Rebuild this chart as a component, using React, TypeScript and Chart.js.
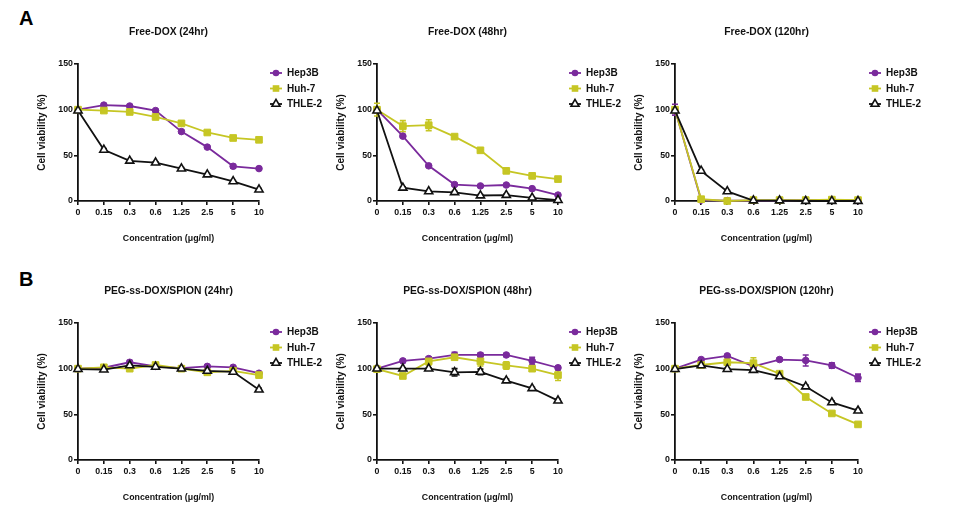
import React, { useEffect, useRef } from 'react';
import { Chart, registerables } from 'chart.js';

Chart.register(...registerables);
Chart.defaults.font.family = "'Liberation Sans', Arial, Helvetica, sans-serif";

const CONCENTRATIONS = ['0', '0.15', '0.3', '0.6', '1.25', '2.5', '5', '10'];
const SERIES_NAMES = ['Hep3B', 'Huh-7', 'THLE-2'];
const Y_TICK_STEP = 50;
const Y_MAX = 150;
const X_TITLE = 'Concentration (μg/ml)';
const Y_TITLE = 'Cell viability (%)';

// Free-DOX (24hr)
const freeDox24Hep3B = [100, 105, 104, 99, 76, 59, 38, 35.5];
const freeDox24Huh7 = [100, 99, 97.5, 92, 85, 75, 69, 67];
const freeDox24Thle2 = [99, 56, 44, 42, 35.5, 29, 21.5, 12.5];
const freeDox24Hep3BErr = [1, 1.5, 1, 1, 1.5, 1, 2, 1];
const freeDox24Huh7Err = [1, 1, 1, 1, 1, 1, 1, 1];
const freeDox24Thle2Err = [1, 1.5, 1.5, 1, 1, 1, 1, 1];

// Free-DOX (48hr)
const freeDox48Hep3B = [100, 71, 38.5, 18, 16.5, 17.5, 13.5, 6.5];
const freeDox48Huh7 = [100, 82, 83, 70.5, 55.5, 33, 27.5, 24];
const freeDox48Thle2 = [99, 14.5, 10.5, 9.5, 6, 6.5, 3.5, 1];
const freeDox48Hep3BErr = [3, 1.5, 1, 1, 1, 1, 1, 1];
const freeDox48Huh7Err = [7, 6, 6, 1.5, 1, 1, 1, 1];
const freeDox48Thle2Err = [1, 1, 1, 1, 1, 1, 1, 1];

// Free-DOX (120hr)
const freeDox120Hep3B = [100, 1, 0.5, 0.5, 0.5, 1, 1, 0.5];
const freeDox120Huh7 = [100, 2, 0, 1, 1, 1, 1.5, 1];
const freeDox120Thle2 = [99, 33, 10.5, 0.5, 0.5, 0, 0, 0];
const freeDox120Hep3BErr = [6, 0.5, 0.5, 0.5, 0.5, 0.5, 0.5, 0.5];
const freeDox120Huh7Err = [1, 1, 0.5, 0.5, 0.5, 0.5, 0.5, 0.5];
const freeDox120Thle2Err = [1, 1, 1, 0.5, 0.5, 0.5, 0.5, 0.5];

// PEG-ss-DOX/SPION (24hr)
const peg24Hep3B = [100, 101, 107, 102.5, 100.5, 102.5, 101.5, 95];
const peg24Huh7 = [100, 101.5, 100, 104, 100, 96, 97.5, 93];
const peg24Thle2 = [99.5, 99, 103.5, 102, 100, 97.5, 96.5, 77];
const peg24Hep3BErr = [1, 1, 2, 1, 1, 1, 1, 1.5];
const peg24Huh7Err = [1, 1, 1, 1, 1, 1, 1, 3];
const peg24Thle2Err = [1.5, 1, 1.5, 1, 1, 1, 1, 1.5];

// PEG-ss-DOX/SPION (48hr)
const peg48Hep3B = [100, 108.5, 111, 115, 115, 115, 108.5, 101];
const peg48Huh7 = [99.5, 92, 108, 112.5, 108, 103.5, 100, 93];
const peg48Thle2 = [100, 100, 100, 96, 96.5, 87, 78.5, 65];
const peg48Hep3BErr = [1, 1.5, 2, 3, 2, 1.5, 4, 2];
const peg48Huh7Err = [1, 1.5, 4, 2, 5, 4, 1.5, 6];
const peg48Thle2Err = [1, 1, 1, 4, 3, 1.5, 1, 1.5];

// PEG-ss-DOX/SPION (120hr)
const peg120Hep3B = [100, 110, 114, 102.5, 110, 109, 103.5, 90];
const peg120Huh7 = [100, 104, 107, 106, 94.5, 69, 51, 39];
const peg120Thle2 = [99.5, 103.5, 99.5, 98.5, 91.5, 80.5, 63, 54];
const peg120Hep3BErr = [1, 1.5, 1, 1, 1.5, 6, 3, 4];
const peg120Huh7Err = [1, 1, 1.5, 6, 1, 1, 1, 1];
const peg120Thle2Err = [2, 1.5, 1, 1.5, 1.5, 1.5, 1.5, 1.5];

const COLORS = ['#7a2a9c', '#c6c624', '#111111'];
const POINT_STYLES = ['circle', 'rect', 'triangle'];
const POINT_RADII = [3.3, 4.7, 4.7];
const DRAW_ORDER = [2, 1, 0];

type PanelDef = {
  title: string;
  values: number[][];
  errors: number[][];
  left: number;
  right: number;
  top: number;
};

const PANELS: PanelDef[] = [
  { title: 'Free-DOX (24hr)', values: [freeDox24Hep3B, freeDox24Huh7, freeDox24Thle2], errors: [freeDox24Hep3BErr, freeDox24Huh7Err, freeDox24Thle2Err], left: 78, right: 259, top: 64 },
  { title: 'Free-DOX (48hr)', values: [freeDox48Hep3B, freeDox48Huh7, freeDox48Thle2], errors: [freeDox48Hep3BErr, freeDox48Huh7Err, freeDox48Thle2Err], left: 377, right: 558, top: 64 },
  { title: 'Free-DOX (120hr)', values: [freeDox120Hep3B, freeDox120Huh7, freeDox120Thle2], errors: [freeDox120Hep3BErr, freeDox120Huh7Err, freeDox120Thle2Err], left: 675, right: 858, top: 64 },
  { title: 'PEG-ss-DOX/SPION (24hr)', values: [peg24Hep3B, peg24Huh7, peg24Thle2], errors: [peg24Hep3BErr, peg24Huh7Err, peg24Thle2Err], left: 78, right: 259, top: 323 },
  { title: 'PEG-ss-DOX/SPION (48hr)', values: [peg48Hep3B, peg48Huh7, peg48Thle2], errors: [peg48Hep3BErr, peg48Huh7Err, peg48Thle2Err], left: 377, right: 558, top: 323 },
  { title: 'PEG-ss-DOX/SPION (120hr)', values: [peg120Hep3B, peg120Huh7, peg120Thle2], errors: [peg120Hep3BErr, peg120Huh7Err, peg120Thle2Err], left: 675, right: 858, top: 323 },
];

const Y_AXIS_W = 50;
const X_AXIS_H = 50;
const TOP_SPACE = 44;
const RIGHT_SPACE = 105;
const PLOT_H = 137;

const errorBarPlugin = {
  id: 'errorBars',
  beforeDatasetsDraw(chart: any) {
    const ctx = chart.ctx;
    const yScale = chart.scales.y;
    chart.data.datasets.forEach((ds: any, i: number) => {
      const meta = chart.getDatasetMeta(i);
      const errs: number[] = ds.errors || [];
      ctx.save();
      ctx.strokeStyle = ds.borderColor;
      ctx.lineWidth = 1.6;
      meta.data.forEach((pt: any, j: number) => {
        const e = errs[j] || 0;
        if (e <= 0) return;
        const v = ds.data[j];
        const y1 = yScale.getPixelForValue(v + e);
        const y2 = yScale.getPixelForValue(Math.max(0, v - e));
        const x = pt.x;
        ctx.beginPath();
        ctx.moveTo(x, y1);
        ctx.lineTo(x, y2);
        ctx.moveTo(x - 3, y1);
        ctx.lineTo(x + 3, y1);
        ctx.moveTo(x - 3, y2);
        ctx.lineTo(x + 3, y2);
        ctx.stroke();
      });
      ctx.restore();
    });
  },
};

function drawMarker(ctx: CanvasRenderingContext2D, style: string, x: number, y: number, color: string) {
  ctx.save();
  ctx.fillStyle = color;
  ctx.strokeStyle = color;
  ctx.lineWidth = 1.6;
  if (style === 'circle') {
    ctx.beginPath();
    ctx.arc(x, y, 3.3, 0, Math.PI * 2);
    ctx.fill();
  } else if (style === 'rect') {
    ctx.fillRect(x - 3.3, y - 3.3, 6.6, 6.6);
  } else {
    ctx.fillStyle = '#ffffff';
    ctx.beginPath();
    ctx.moveTo(x, y - 4.6);
    ctx.lineTo(x + 4, y + 2.3);
    ctx.lineTo(x - 4, y + 2.3);
    ctx.closePath();
    ctx.fill();
    ctx.stroke();
  }
  ctx.restore();
}

const legendTitlePlugin = {
  id: 'sideLegendAndTitle',
  afterDraw(chart: any) {
    const ctx = chart.ctx;
    const area = chart.chartArea;
    const opts = chart.options.plugins.panelTitle || {};
    // panel title centred over the plot area
    ctx.save();
    ctx.fillStyle = '#111';
    ctx.font = "bold 10.3px 'Liberation Sans', Arial, sans-serif";
    ctx.textAlign = 'center';
    ctx.textBaseline = 'middle';
    ctx.fillText(opts.text || '', (area.left + area.right) / 2, area.top - 32);
    ctx.restore();

    const rows = [9, 24.5, 40];
    const x0 = area.right + 11;
    chart.data.datasets.forEach((ds: any, i: number) => {
      const y = area.top + rows[i];
      ctx.save();
      ctx.strokeStyle = ds.borderColor;
      ctx.lineWidth = 1.8;
      ctx.beginPath();
      ctx.moveTo(x0, y);
      ctx.lineTo(x0 + 12, y);
      ctx.stroke();
      ctx.restore();
      drawMarker(ctx, POINT_STYLES[i], x0 + 6, y, ds.borderColor);
      ctx.save();
      ctx.fillStyle = '#111';
      ctx.font = "bold 10px 'Liberation Sans', Arial, sans-serif";
      ctx.textBaseline = 'middle';
      ctx.textAlign = 'left';
      ctx.fillText(ds.label, x0 + 17, y + 0.5);
      ctx.restore();
    });
  },
};

function Panel({ def }: { def: PanelDef }) {
  const ref = useRef<HTMLCanvasElement>(null);
  const canvasLeft = def.left - Y_AXIS_W;
  const canvasTop = def.top - TOP_SPACE;
  const width = Y_AXIS_W + (def.right - def.left) + RIGHT_SPACE;
  const height = TOP_SPACE + PLOT_H + X_AXIS_H;

  useEffect(() => {
    if (!ref.current) return;
    const tickFont = { size: 8.8, weight: 'bold' as const };
    const chart = new Chart(ref.current, {
      type: 'line',
      data: {
        labels: CONCENTRATIONS,
        datasets: SERIES_NAMES.map((name, i) => ({
          label: name,
          data: def.values[i],
          errors: def.errors[i],
          borderColor: COLORS[i],
          backgroundColor: COLORS[i],
          pointBackgroundColor: i === 2 ? '#ffffff' : COLORS[i],
          pointBorderColor: COLORS[i],
          pointBorderWidth: i === 2 ? 1.6 : 1,
          pointStyle: POINT_STYLES[i],
          pointRadius: POINT_RADII[i],
          borderWidth: 1.8,
          tension: 0,
          clip: false,
          order: DRAW_ORDER[i],
        })) as any,
      },
      options: {
        responsive: false,
        animation: false,
        devicePixelRatio: 1,
        layout: { padding: { top: TOP_SPACE, left: 0, right: RIGHT_SPACE, bottom: 0 } },
        plugins: {
          legend: { display: false },
          tooltip: { enabled: false },
          title: { display: false },
          panelTitle: { text: def.title },
        },
        scales: {
          x: {
            type: 'category',
            offset: false,
            grid: { drawOnChartArea: false, drawTicks: true, tickLength: 4, color: '#111', lineWidth: 1.6 },
            border: { display: true, color: '#111', width: 1.8 },
            ticks: { font: tickFont, color: '#111', padding: 2, maxRotation: 0, autoSkip: false },
            title: { display: true, text: X_TITLE, color: '#111', font: { size: 8.8, weight: 'bold' }, padding: { top: 4, bottom: 7 } },
            afterFit: (s: any) => { s.height = X_AXIS_H; },
          },
          y: {
            min: 0,
            max: Y_MAX,
            grid: { drawOnChartArea: false, drawTicks: true, tickLength: 4, color: '#111', lineWidth: 1.6 },
            border: { display: true, color: '#111', width: 1.8 },
            ticks: { stepSize: Y_TICK_STEP, font: tickFont, color: '#111', padding: 1 },
            title: { display: true, text: Y_TITLE, color: '#111', font: { size: 10, weight: 'bold' }, padding: { top: 8, bottom: 0 } },
            afterFit: (s: any) => { s.width = Y_AXIS_W; },
          },
        },
      } as any,
      plugins: [errorBarPlugin, legendTitlePlugin],
    });
    return () => chart.destroy();
  }, [def]);

  return (
    <canvas
      ref={ref}
      width={width}
      height={height}
      style={{ position: 'absolute', left: canvasLeft, top: canvasTop, width, height }}
    />
  );
}

export default function App() {
  const labelStyle: React.CSSProperties = {
    position: 'absolute',
    fontFamily: "'Liberation Sans', Arial, sans-serif",
    fontWeight: 'bold',
    fontSize: 20,
    lineHeight: '20px',
    color: '#000',
  };
  return (
    <div style={{ position: 'absolute', left: 0, top: 0, width: 963, height: 517, background: '#fff', overflow: 'hidden' }}>
      <div style={{ ...labelStyle, left: 19, top: 8 }}>A</div>
      <div style={{ ...labelStyle, left: 19, top: 269 }}>B</div>
      {PANELS.map((p, i) => (
        <Panel key={i} def={p} />
      ))}
    </div>
  );
}
